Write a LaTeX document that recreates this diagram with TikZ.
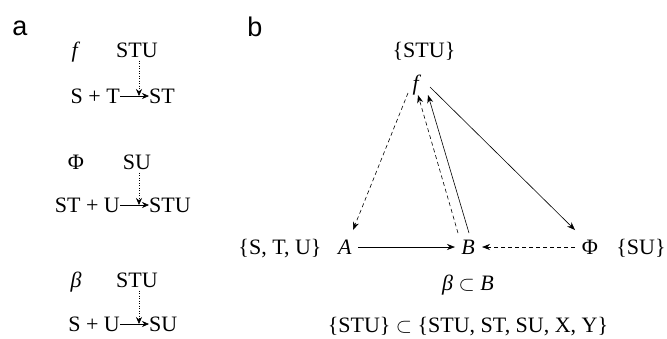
\documentclass[tikz,border=0pt]{standalone}
\usepackage{fontspec}
\setmainfont{Liberation Serif}
\newfontfamily\panelfont{Liberation Sans}
\usetikzlibrary{arrows.meta,positioning}
\tikzset{
  lbl/.style={font=\fontsize{22}{26}\selectfont, inner sep=0pt, text height=18pt, text depth=3pt},
  panel/.style={font=\panelfont\fontsize{27}{30}\selectfont, inner sep=0pt},
  react/.style={-{Stealth[length=7pt,width=6pt]}, semithick},
  cat/.style={dash pattern=on 1pt off 1.5pt, -{Stealth[length=7pt,width=6pt]}, semithick},
  link/.style={-{Stealth[length=8pt,width=6pt]}, semithick},
  dlink/.style={link, dash pattern=on 4pt off 3pt},
}
\begin{document}
\begin{tikzpicture}[x=1pt,y=-1pt]
\useasboundingbox (0,0) rectangle (667,338);
% panel a
\node[panel] (pa) at (20,28) {a};
\node[lbl] (fa) at (76,50) {\textit{f}};
\node[lbl] (cata) at (137,50) {STU};
\node[lbl, anchor=east] (ra1) at (120,96) {S + T};
\node[lbl, anchor=west] (pa1) at (149,96) {ST};
\draw[react] (ra1) -- (pa1);
\draw[cat] ([xshift=2pt]cata.south) -- ([xshift=2pt]cata.south |- ra1.center);

\node[lbl] (phia) at (76,162) {Φ};
\node[lbl] (catb) at (137,162) {SU};
\node[lbl, anchor=east] (ra2) at (120,205) {ST + U};
\node[lbl, anchor=west] (pa2) at (149,205) {STU};
\draw[react] (ra2) -- (pa2);
\draw[cat] ([xshift=2pt]catb.south) -- ([xshift=2pt]catb.south |- ra2.center);

\node[lbl] (betaa) at (76,280) {\textit{β}};
\node[lbl] (catc) at (137,280) {STU};
\node[lbl, anchor=east] (ra3) at (120,324) {S + U};
\node[lbl, anchor=west] (pa3) at (149,324) {SU};
\draw[react] (ra3) -- (pa3);
\draw[cat] ([xshift=2pt]catc.south) -- ([xshift=2pt]catc.south |- ra3.center);

% panel b
\node[panel] (pb) at (255,27) {b};
\node[lbl] (setf) at (424,50) {\{STU\}};
\node[lbl] (f) at (417,83) {\textit{f}};
\node[lbl] (A) at (345,247) {\textit{A}};
\node[lbl] (B) at (468,247) {\textit{B}};
\node[lbl] (Phi) at (590,247) {Φ};
\node[lbl] (setA) at (280,247) {\{S, T, U\}};
\node[lbl] (setPhi) at (641,247) {\{SU\}};
\node[lbl] (beta) at (468,283) {\textit{β} $\subset$ \textit{B}};
\node[lbl] (inc) at (468,325) {\{STU\} $\subset$ \{STU, ST, SU, X, Y\}};

\draw[dlink] ([xshift=-9pt,yshift=-10pt]f.center) -- ([xshift=8pt,yshift=17pt]A.center);
\draw[dlink] ([xshift=-10pt,yshift=14pt]B.center) -- ([xshift=1pt,yshift=-12pt]f.center);
\draw[link] ([xshift=1pt,yshift=14pt]B.center) -- ([xshift=11pt,yshift=-12pt]f.center);
\draw[link] ([xshift=13pt,yshift=-4pt]f.center) -- ([xshift=-15pt,yshift=17pt]Phi.center);
\draw[link] ([xshift=13pt]A.center) -- ([xshift=-13pt]B.center);
\draw[dlink] ([xshift=-15pt]Phi.center) -- ([xshift=14pt]B.center);
\end{tikzpicture}
\end{document}
